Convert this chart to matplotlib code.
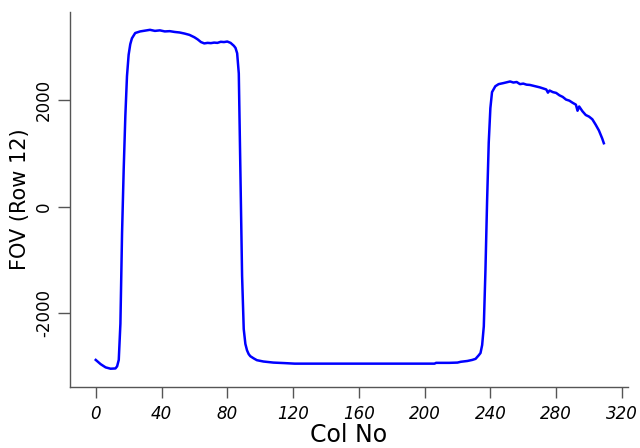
import matplotlib
matplotlib.use("Agg")
import matplotlib.pyplot as plt

# column index along row 12 and the FOV reading at that column
col_no = [0, 3, 6, 9, 12, 13, 14, 15, 16, 17, 18, 19, 20, 21, 22, 24, 27, 30,
          33, 36, 39, 42, 45, 48, 51, 54, 57, 60, 62, 64, 66, 68, 70, 72, 74,
          76, 78, 80, 82, 84, 85, 86, 87, 88, 89, 90, 91, 92, 93, 94, 96, 98,
          102, 108, 115, 121, 206, 207, 215, 220, 222, 226, 229, 231, 233, 234,
          235, 236, 237, 238, 239, 240, 241, 243, 245, 248, 250, 252, 254, 256,
          258, 260, 262, 264, 266, 268, 270, 272, 274, 275, 276, 278, 280, 282,
          284, 286, 288, 290, 292, 293, 294, 296, 298, 300, 302, 304, 306, 308,
          309]
fov_row12 = [-2880, -2960, -3020, -3045, -3040, -3000, -2880, -2200, -500, 700,
             1700, 2450, 2850, 3050, 3160, 3260, 3290, 3305, 3320, 3300, 3310,
             3290, 3295, 3280, 3270, 3250, 3225, 3180, 3140, 3090, 3065, 3075,
             3070, 3080, 3075, 3095, 3090, 3100, 3075, 3020, 2980, 2880, 2500,
             600, -1300, -2300, -2580, -2700, -2770, -2810, -2850, -2885,
             -2910, -2930, -2940, -2950, -2950, -2935, -2935, -2930, -2915,
             -2900, -2880, -2860, -2790, -2750, -2600, -2250, -1200, 100, 1200,
             1850, 2150, 2260, 2300, 2320, 2335, 2350, 2330, 2340, 2300, 2310,
             2290, 2285, 2270, 2255, 2240, 2220, 2200, 2140, 2180, 2150, 2135,
             2090, 2060, 2010, 1990, 1950, 1915, 1800, 1880, 1790, 1720, 1690,
             1640, 1540, 1430, 1280, 1190]

x_ticks = [0, 40, 80, 120, 160, 200, 240, 280, 320]
y_ticks = [-2000, 0, 2000]

fig = plt.figure(figsize=(6.4, 4.48), dpi=100)
ax = fig.add_axes([0.109, 0.136, 0.872, 0.837])

ax.plot(col_no, fov_row12, color="#0000ff", lw=1.8)

ax.set_xlim(-15.8, 323.6)
ax.set_ylim(-3390, 3653)

for side in ("top", "right"):
    ax.spines[side].set_visible(False)
for side in ("left", "bottom"):
    ax.spines[side].set_color("#555555")
    ax.spines[side].set_linewidth(1.0)

ax.set_xticks(x_ticks)
ax.set_xticklabels([str(v) for v in x_ticks], fontstyle="italic", fontsize=12)
ax.set_yticks(y_ticks)
ax.set_yticklabels([str(v) for v in y_ticks], rotation=90, va="center",
                   fontsize=12)
ax.tick_params(axis="x", length=8, width=1, color="#555555", pad=5)
ax.tick_params(axis="y", length=9, width=1, color="#555555", pad=3)

ax.set_xlabel("Col No", fontsize=17, labelpad=0)
ax.set_ylabel("FOV (Row 12)", fontsize=15, labelpad=4)

fig.savefig("out.png", dpi=100)
